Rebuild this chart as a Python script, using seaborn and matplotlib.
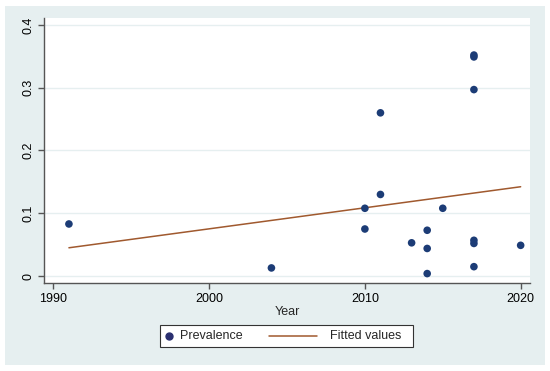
import numpy as np
import pandas as pd
import matplotlib
matplotlib.use("Agg")
import matplotlib.pyplot as plt
from matplotlib.patches import Rectangle
from matplotlib.lines import Line2D
import seaborn as sns

# Data
year = [1991, 2004, 2010, 2010, 2011, 2011, 2013, 2014, 2014, 2014,
        2015, 2017, 2017, 2017, 2017, 2017, 2017, 2020]
prevalence = [0.083, 0.013, 0.108, 0.075, 0.260, 0.130, 0.053, 0.073, 0.044, 0.004,
              0.108, 0.352, 0.349, 0.297, 0.057, 0.052, 0.015, 0.049]

x_ticks = [1990, 2000, 2010, 2020]
y_ticks = [0, 0.1, 0.2, 0.3, 0.4]
y_tick_labels = ["0", "0.1", "0.2", "0.3", "0.4"]
legend_labels = ["Prevalence", "Fitted values"]

df = pd.DataFrame({"Year": year, "Prevalence": prevalence})

sns.set_style("white")
plt.rcParams["font.family"] = ["Liberation Sans", "DejaVu Sans"]

navy = "#1c3c76"
line_col = "#a0592e"
region_col = "#e6eff0"
W, H = 550, 371
fs = 9

fig = plt.figure(figsize=(5.5, 3.71), dpi=100, facecolor="white")
# Stata-like graph region behind everything
fig.patches.append(Rectangle((5 / W, 6 / H), 540 / W, 359 / H,
                             transform=fig.transFigure, facecolor=region_col,
                             edgecolor="none", zorder=-10))

ax = fig.add_axes([44 / W, 1 - 283 / H, 486 / W, 265 / H])
ax.set_facecolor("white")

sns.regplot(data=df, x="Year", y="Prevalence", scatter=False, ci=None,
            color=line_col, line_kws={"linewidth": 1.1, "zorder": 2}, ax=ax)
sns.scatterplot(data=df, x="Year", y="Prevalence", color=navy, s=30,
                edgecolor="none", zorder=3, ax=ax)

ax.set_xlim(1989.4, 2020.6)
ax.set_ylim(-0.011, 0.411)
ax.set_xticks(x_ticks)
ax.set_yticks(y_ticks)
ax.set_yticklabels(y_tick_labels, rotation=90, va="center")
ax.grid(axis="y", color=region_col, linewidth=1.0)
ax.set_axisbelow(True)

for side in ["top", "right"]:
    ax.spines[side].set_visible(False)
for side in ["left", "bottom"]:
    ax.spines[side].set_color("#555555")
    ax.spines[side].set_linewidth(1.0)

ax.tick_params(axis="both", direction="out", length=4, width=1.0,
               color="#555555", labelsize=fs, labelcolor="black", pad=3,
               left=True, bottom=True)
ax.set_xlabel("Year", fontsize=fs, labelpad=1)
ax.set_ylabel("")

# Legend box drawn by hand (Stata style: short marker key, long line key)
fig.patches.append(Rectangle((160 / W, 1 - 347 / H), 253 / W, 22 / H,
                             transform=fig.transFigure, facecolor="white",
                             edgecolor="#333333", linewidth=0.8, zorder=5))
ly = 1 - 336 / H
fig.lines.append(Line2D([169 / W], [ly], transform=fig.transFigure,
                        marker="o", linestyle="none", color="#2a2f70",
                        markersize=5, zorder=6))
fig.text(180 / W, ly, legend_labels[0], fontsize=fs, va="center", ha="left", zorder=6)
fig.lines.append(Line2D([269 / W, 317 / W], [ly, ly], transform=fig.transFigure,
                        color=line_col, linewidth=1.1, zorder=6))
fig.text(330 / W, ly, legend_labels[1], fontsize=fs, va="center", ha="left", zorder=6)

fig.savefig("out.png", dpi=100, facecolor="white")
